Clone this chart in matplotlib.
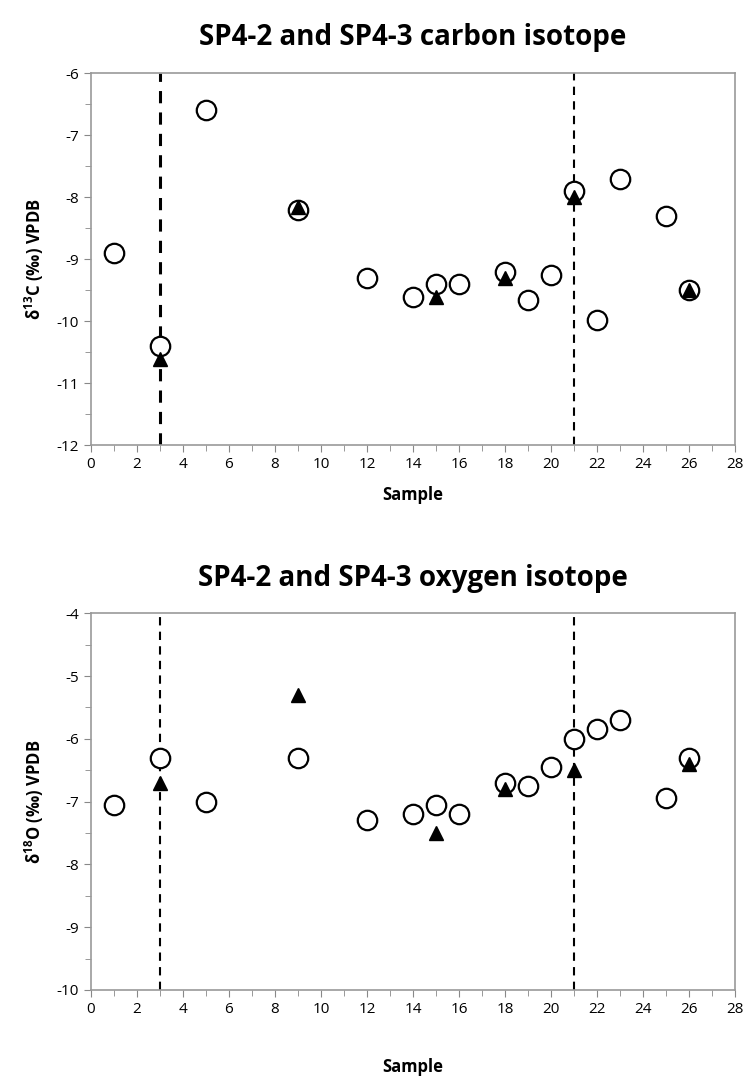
import matplotlib

matplotlib.use("Agg")
import matplotlib.pyplot as plt
from matplotlib.ticker import MultipleLocator

plt.rcParams["font.family"] = ["Open Sans", "DejaVu Sans"]
plt.rcParams["axes.unicode_minus"] = False
plt.rcParams["mathtext.fontset"] = "custom"
plt.rcParams["mathtext.rm"] = "Open Sans"
plt.rcParams["mathtext.bf"] = "Open Sans:bold"

# SP4-2 (open circles) and SP4-3 (filled triangles)
c_x = [1, 3, 5, 9, 12, 14, 15, 16, 18, 19, 20, 21, 22, 23, 25, 26]
c_d13c = [-8.9, -10.4, -6.6, -8.2, -9.3, -9.6, -9.4, -9.4, -9.2, -9.65,
          -9.25, -7.9, -9.97, -7.7, -8.3, -9.5]
c_d18o = [-7.05, -6.3, -7.0, -6.3, -7.3, -7.2, -7.05, -7.2, -6.7, -6.75,
          -6.45, -6.0, -5.85, -5.7, -6.95, -6.3]

t_x = [3, 9, 15, 18, 21, 26]
t_d13c = [-10.6, -8.15, -9.6, -9.3, -8.0, -9.5]
t_d18o = [-6.7, -5.3, -7.5, -6.8, -6.5, -6.4]

boundaries = [3, 21]

fig = plt.figure(figsize=(7.43, 10.76), dpi=100)
ax1 = fig.add_axes([0.1225, 0.586, 0.8665, 0.346])
ax2 = fig.add_axes([0.1225, 0.080, 0.8665, 0.350])


def draw(ax, circ, tri, ylim, title, ylabel, vlw, xpad):
    for b, lw in zip(boundaries, vlw):
        ax.axvline(b, color="black", ls=(0, (4, 3)), lw=lw, zorder=1)
    ax.plot(c_x, circ, "o", ms=14, mfc="white", mec="black", mew=1.6, ls="none", zorder=2)
    ax.plot(t_x, tri, "^", ms=10, color="black", ls="none", zorder=3)
    ax.set_xlim(0, 28)
    ax.set_ylim(*ylim)
    ax.xaxis.set_major_locator(MultipleLocator(2))
    ax.xaxis.set_minor_locator(MultipleLocator(1))
    ax.yaxis.set_major_locator(MultipleLocator(1))
    ax.yaxis.set_minor_locator(MultipleLocator(0.5))
    ax.tick_params(which="both", direction="out", color="#888888", labelsize=11, length=5)
    ax.tick_params(which="minor", length=4)
    for s in ax.spines.values():
        s.set_color("#999999")
        s.set_linewidth(1.2)
    ax.set_title(title, fontsize=20, fontweight="bold", pad=20)
    ax.set_xlabel("Sample", fontsize=12, fontweight="bold", labelpad=xpad)
    ax.set_ylabel(ylabel, fontsize=12, fontweight="bold", labelpad=8)


draw(ax1, c_d13c, t_d13c, (-12, -6), "SP4-2 and SP4-3 carbon isotope",
     r"δ$^{\mathbf{13}}$C (‰) VPDB", [2.2, 1.5], 10)
draw(ax2, c_d18o, t_d18o, (-10, -4), "SP4-2 and SP4-3 oxygen isotope",
     r"δ$^{\mathbf{18}}$O (‰) VPDB", [1.5, 1.5], 30)

fig.savefig("out.png", dpi=100)
